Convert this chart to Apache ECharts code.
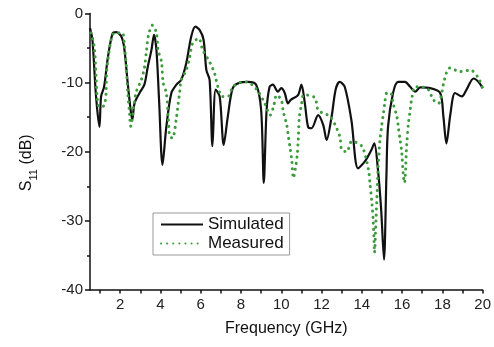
<!DOCTYPE html>
<html><head><meta charset="utf-8">
<script src="https://cdn.jsdelivr.net/npm/echarts@6/dist/echarts.min.js"></script>
<style>html,body{margin:0;padding:0;background:#fff}#c{width:494px;height:347px}</style>
</head><body><div id="c"></div>
<script>
const simFreq = [0.5,0.62,0.8,0.97,1.05,1.2,1.39,1.62,1.8,2.05,2.2,2.37,2.52,2.6,2.71,2.96,3.2,3.37,3.55,3.68,3.8,3.93,4.1,4.29,4.54,4.79,5.03,5.28,5.53,5.73,5.95,6.14,6.28,6.44,6.58,6.74,6.94,7.14,7.34,7.59,7.94,8.33,8.75,9.0,9.13,9.27,9.42,9.58,9.83,10.0,10.17,10.33,10.47,10.83,11.0,11.17,11.33,11.5,11.83,12.08,12.25,12.5,12.7,12.9,13.15,13.48,13.81,14.15,14.48,14.62,14.8,14.96,15.1,15.22,15.3,15.55,15.8,16.14,16.4,16.65,16.9,17.4,17.89,18.05,18.2,18.4,18.63,18.97,19.2,19.55,19.8,20];
const simVal  = [-2.1,-3.8,-12,-16.4,-12,-10.6,-6.3,-2.9,-2.7,-3.3,-5,-10,-14,-15.4,-13,-11.5,-10.3,-7.7,-5.3,-3.1,-5.3,-12.5,-21.9,-16.4,-11.5,-10.3,-9.6,-7.2,-3.3,-1.9,-2.4,-3.8,-8.2,-9.6,-19.2,-11,-12,-19,-15,-10.8,-10,-9.9,-10.3,-14,-24.5,-14,-10.6,-10.3,-11.3,-10.8,-11.5,-13,-12.5,-11.8,-10.3,-13,-16.4,-16.6,-14.7,-16.1,-18.3,-14.9,-11,-9.9,-10.6,-15.4,-22.4,-21.4,-19.7,-18.8,-22.6,-28.4,-35.6,-23.6,-16.4,-11.5,-9.9,-9.9,-10.6,-11.3,-10.7,-10.8,-11.5,-14.9,-18.8,-14.5,-11.5,-12,-11,-9.4,-9.9,-10.8];
const measFreq = [0.55,0.71,0.8,0.85,0.95,1.1,1.22,1.3,1.33,1.4,1.55,1.72,2.1,2.2,2.3,2.37,2.47,2.52,2.7,2.8,3.05,3.2,3.3,3.4,3.6,3.8,3.88,4.05,4.13,4.29,4.38,4.46,4.6,4.8,4.88,4.96,5.03,5.28,5.45,5.6,5.9,6.1,6.44,6.69,6.85,7.07,7.35,7.6,7.94,8.27,8.55,8.86,9.18,9.45,9.62,9.77,10.0,10.1,10.27,10.35,10.44,10.52,10.6,10.73,10.8,10.84,10.9,11.0,11.1,11.25,11.67,11.84,12.42,12.75,12.92,13.0,13.25,13.5,14.0,14.33,14.4,14.5,14.56,14.6,14.63,14.7,14.78,14.8,14.9,14.98,15.07,15.15,15.24,15.43,15.57,15.74,15.82,15.9,15.98,16.06,16.12,16.23,16.32,16.4,16.48,16.65,17.23,17.56,17.81,17.98,18.1,18.36,18.9,19.4,19.76,20];
const measVal  = [-2.8,-4.8,-9.1,-12,-13.5,-13.5,-13.2,-11.5,-8.2,-6.5,-3.8,-2.8,-2.8,-4.3,-7.7,-11.3,-14.7,-16.3,-13,-11.3,-9.6,-7.9,-5.5,-3.2,-1.7,-2.8,-5.3,-7,-10,-11.5,-14.9,-17.8,-18,-14.9,-13,-11.3,-9.6,-8.2,-6.3,-4.3,-3.6,-5.3,-7,-8.7,-10.6,-12,-12,-10.6,-10,-9.9,-10.3,-11.3,-13,-14.7,-13.4,-11.8,-12.5,-14.2,-16.1,-17.8,-19.5,-21.2,-23.8,-21.9,-20.2,-18.3,-14.9,-13.2,-11.8,-11.8,-12.2,-14,-14.9,-16.6,-18,-19.7,-20,-18.5,-19.2,-22.6,-24.5,-27.4,-29.8,-32.7,-34.6,-30,-24.5,-22.6,-18.3,-16.4,-14.5,-12.7,-11.5,-11.5,-13.2,-14.9,-16.6,-18.3,-20,-23.5,-24.5,-19,-15.7,-14,-12.3,-10.6,-10.8,-12.5,-13,-11.3,-9.6,-7.9,-8.4,-8.2,-9.2,-10.8];
const xAllTicks = [1,2,3,4,5,6,7,8,9,10,11,12,13,14,15,16,17,18,19,20];
const seriesNames = ['Simulated','Measured'];

const zip = (a,b) => a.map((v,i)=>[v,b[i]]);
const chart = echarts.init(document.getElementById('c'));
const FONT = 'Liberation Sans, Arial, sans-serif';
chart.setOption({
  animation:false,
  backgroundColor:'#fff',
  grid:{left:90,right:11,top:13.5,bottom:57},
  legend:{
    orient:'vertical', left:153, top:213,
    itemWidth:42, itemHeight:12, itemGap:2,
    padding:[3,6,3,7],
    borderColor:'#999', borderWidth:1, backgroundColor:'#fff',
    itemStyle:{opacity:0},
    textStyle:{fontFamily:FONT,fontSize:17,color:'#111'},
    data:seriesNames
  },
  xAxis:{
    type:'value', min:0.5, max:20,
    name:'Frequency (GHz)', nameLocation:'middle', nameGap:31,
    nameTextStyle:{fontFamily:FONT,fontSize:16,color:'#111'},
    axisLine:{show:true,onZero:false,lineStyle:{color:'#111',width:1.5}},
    axisTick:{show:true,customValues:xAllTicks,length:3.5,lineStyle:{color:'#111',width:1.5}},
    axisLabel:{customValues:xAllTicks,hideOverlap:false,interval:0,
      formatter:v => (v % 2 === 0 ? String(v) : ''),
      fontFamily:FONT,fontSize:15,color:'#222',margin:7},
    splitLine:{show:false}
  },
  yAxis:{
    type:'value', min:-40, max:0, interval:10,
    name:'{s|S}{sub|11}{s| (dB)}', nameLocation:'middle', nameGap:55, nameRotate:90,
    nameTextStyle:{padding:[0,0,0,-22],rich:{
      s:{fontFamily:FONT,fontSize:16,color:'#111',verticalAlign:'bottom',lineHeight:20},
      sub:{fontFamily:FONT,fontSize:11,color:'#111',verticalAlign:'bottom',lineHeight:14,padding:[0,0,-4,0]}
    }},
    axisLine:{show:true,lineStyle:{color:'#111',width:1.5}},
    axisTick:{show:true,length:5,lineStyle:{color:'#111',width:1.5}},
    minorTick:{show:true,splitNumber:2,length:3,lineStyle:{color:'#111',width:1.5}},
    axisLabel:{fontFamily:FONT,fontSize:15,color:'#222',margin:7},
    splitLine:{show:false}
  },
  series:[{
    name:seriesNames[0], type:'line', symbol:'none', smooth:0.3,
    data:zip(simFreq,simVal),
    lineStyle:{color:'#111',width:2.2}, itemStyle:{color:'#111'}
  },{
    name:seriesNames[1], type:'line', symbol:'none', smooth:0.3,
    data:zip(measFreq,measVal),
    lineStyle:{color:'#3c9c3c',width:3,type:[0.1,6],cap:'round'}, itemStyle:{color:'#3c9c3c'}
  }]
});
</script></body></html>
